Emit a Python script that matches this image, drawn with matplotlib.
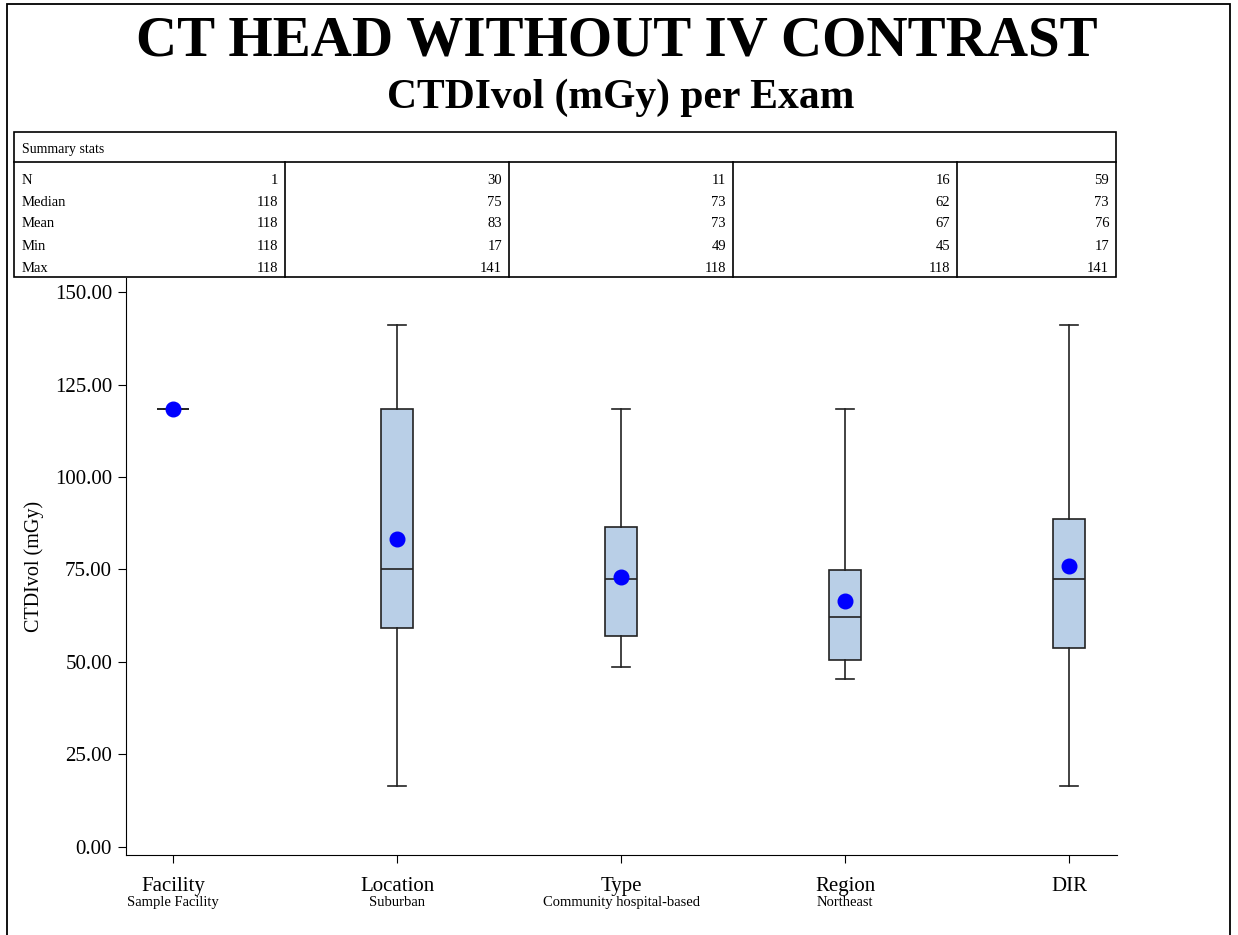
import matplotlib.pyplot as plt
from matplotlib.patches import Rectangle
from matplotlib.lines import Line2D

plt.rcParams['font.family'] = ['Liberation Serif', 'DejaVu Serif']

# data
groups = ["Facility", "Location", "Type", "Region", "DIR"]
sub_labels = ["Sample Facility", "Suburban", "Community hospital-based", "Northeast", ""]
n_vals = [1, 30, 11, 16, 59]
median_vals = [118, 75, 73, 62, 73]
mean_vals = [118, 83, 73, 67, 76]
min_vals = [118, 17, 49, 45, 17]
max_vals = [118, 141, 118, 118, 141]
# box stats as drawn (estimated from the plot)
q1_vals = [118.4, 59.2, 57.0, 50.5, 53.8]
q3_vals = [118.4, 118.4, 86.5, 74.9, 88.6]
med_plot = [118.4, 75.1, 72.4, 62.2, 72.4]
mean_plot = [118.4, 83.2, 73.0, 66.5, 76.0]
lo_plot = [118.4, 16.5, 48.6, 45.4, 16.5]
hi_plot = [118.4, 141.0, 118.4, 118.4, 141.0]

stat_names = ["N", "Median", "Mean", "Min", "Max"]

W, H = 1238, 935
fig = plt.figure(figsize=(W / 100, H / 100), dpi=100)

def fx(px):
    return px / W

def fy(py):
    return 1 - py / H

# outer frame
fig.patches.append(Rectangle((fx(7), -0.02), fx(1230) - fx(7), fy(4) + 0.02,
                             transform=fig.transFigure, fill=False, lw=1.3,
                             edgecolor='black'))

fig.text(fx(617), fy(41), "CT HEAD WITHOUT IV CONTRAST", ha='center', va='center',
         fontsize=41, fontweight='bold')
fig.text(fx(621), fy(98), "CTDIvol (mGy) per Exam", ha='center', va='center',
         fontsize=30, fontweight='bold')

# summary stats table
tl, tr, tt, th, tb = 14, 1116, 132, 162, 277
col_edges = [tl, 285, 509, 733, 957, tr]
fig.patches.append(Rectangle((fx(tl), fy(tb)), fx(tr) - fx(tl), fy(tt) - fy(tb),
                             transform=fig.transFigure, fill=False, lw=1.2,
                             edgecolor='black'))
fig.lines.append(Line2D([fx(tl), fx(tr)], [fy(th), fy(th)], transform=fig.transFigure,
                        color='black', lw=1.2))
for xe in col_edges[1:-1]:
    fig.lines.append(Line2D([fx(xe), fx(xe)], [fy(th), fy(tb)], transform=fig.transFigure,
                            color='black', lw=1.2))
fig.text(fx(22), fy(150), "Summary stats", ha='left', va='center', fontsize=10)
rows = [n_vals, median_vals, mean_vals, min_vals, max_vals]
row_y = [180, 202, 224, 246, 268]
for name, vals, ry in zip(stat_names, rows, row_y):
    fig.text(fx(22), fy(ry), name, ha='left', va='center', fontsize=10.5)
    for j, v in enumerate(vals):
        fig.text(fx(col_edges[j + 1] - 7), fy(ry), str(v), ha='right', va='center',
                 fontsize=10.5)

# box plot
ax = fig.add_axes([fx(126), fy(855), fx(1117) - fx(126), fy(278) - fy(855)])
positions = list(range(len(groups)))
stats = []
for i in positions:
    stats.append(dict(med=med_plot[i], q1=q1_vals[i], q3=q3_vals[i],
                      whislo=lo_plot[i], whishi=hi_plot[i], mean=mean_plot[i],
                      fliers=[]))
ax.bxp(stats, positions=positions, widths=0.14, capwidths=0.08, patch_artist=True,
       showmeans=True,
       boxprops=dict(facecolor='#b9cfe7', edgecolor='#222222', linewidth=1.2),
       medianprops=dict(color='#222222', linewidth=1.2),
       whiskerprops=dict(color='#222222', linewidth=1.2),
       capprops=dict(color='#222222', linewidth=1.2),
       meanprops=dict(marker='o', markerfacecolor='#0000ff', markeredgecolor='#0000ff',
                      markersize=10.5))

ax.set_xlim(-0.21, 4.214)
ax.set_ylim(-2.2, 153.8)
yticks = [0, 25, 50, 75, 100, 125, 150]
ax.set_yticks(yticks)
ax.set_yticklabels(["%.2f" % t for t in yticks], fontsize=15)
ax.set_xticks(positions)
ax.set_xticklabels(groups, fontsize=15)
ax.tick_params(axis='x', length=6, pad=10)
ax.tick_params(axis='y', length=6, pad=4)
for i, lab in enumerate(sub_labels):
    if lab:
        ax.annotate(lab, xy=(i, 0), xycoords=('data', 'axes fraction'),
                    xytext=(0, -34), textcoords='offset points', ha='center',
                    va='center', fontsize=10.5)
ax.spines['top'].set_visible(False)
ax.spines['right'].set_visible(False)
ax.set_ylabel("CTDIvol (mGy)", fontsize=14.5, labelpad=8)

fig.savefig("out.png", dpi=100)
